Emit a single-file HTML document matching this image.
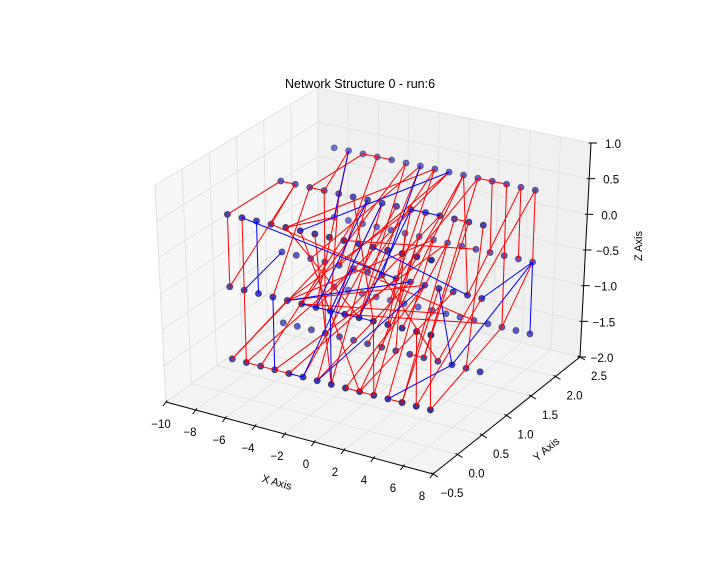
<!DOCTYPE html>
<html><head><meta charset="utf-8"><style>
html,body{margin:0;padding:0;background:#fff;}
svg{display:block;font-family:"Liberation Sans",sans-serif;}
</style></head><body>
<svg id="chart" width="720" height="576" viewBox="0 0 720 576" xmlns="http://www.w3.org/2000/svg">
<rect x="0" y="0" width="720" height="576" fill="#ffffff"/>
<g id="panes"></g>
<g id="grid"></g>
<g id="axes"></g>
<g id="nodes"></g>
<g id="edges"></g>
<g id="labels" font-size="11.5" fill="#000"></g>
<text x="360" y="88" text-anchor="middle" font-size="12.5">Network Structure 0 - run:6</text>
<text x="277" y="486" text-anchor="middle" font-size="11" transform="rotate(16 277 482)">X Axis</text>
<text x="546" y="453" text-anchor="middle" font-size="11" transform="rotate(-40 546 449)">Y Axis</text>
<text x="638" y="250" text-anchor="middle" font-size="11" transform="rotate(-90 638 246)">Z Axis</text>
</svg>
<script>
const xTicks=[-10,-8,-6,-4,-2,0,2,4,6,8];
const yTicks=[-0.5,0.0,0.5,1.0,1.5,2.0,2.5];
const zTicks=[-2.0,-1.5,-1.0,-0.5,0.0,0.5,1.0];
// node grid coordinates (data units)
const nodeX=[-7.15,-6.2,-5.25,-4.3,-3.35,-2.4,-1.45,-0.5,0.45,1.4,2.35,3.3,4.25,5.2,6.15];
const nodeY=[0,1,2];
const nodeZ=[-1.5,-0.5,0.5];
// edges reference nodes by column (-7..7), row (0..2), level (-1.5,-0.5,0.5)
const redEdges=[
[-7,0,.5,-7,1,.5],[-7,0,.5,-7,0,-.5],[-7,0,-.5,-6,1,.5],[-7,0,-1.5,-3,0,-.5],[-6,0,.5,-6,0,-1.5],
[-6,0,-1.5,-5,0,-1.5],[-5,0,-1.5,-4,0,-1.5],[-4,0,-1.5,-3,0,-1.5],[-6,1,.5,-4,0,.5],[-7,1,.5,-6,1,.5],
[-5,1,.5,-4,1,.5],[-6,2,.5,-4,1,.5],[-5,2,.5,-5,1,.5],[-5,2,.5,-4,2,.5],[-4,2,.5,-3,2,.5],
[-4,2,.5,-3,1,-.5],[0,2,.5,-3,0,.5],[0,2,.5,-1,1,-.5],[3,2,.5,4,2,.5],[4,2,.5,5,2,.5],
[3,2,.5,1,1,-.5],[4,2,.5,4,2,-.5],[5,2,.5,5,2,-1.5],[6,2,.5,6,2,-.5],[7,2,.5,7,2,-.5],
[7,2,-.5,5,2,-1.5],[4,0,-1.5,5,0,-1.5],[7,0,-1.5,5,2,-1.5],[7,0,-1.5,7,0,-.5],[-3,0,-.5,2,1,.5],
[-3,0,-.5,0,2,-.5],[-3,0,-.5,3,1,-.5],[-6,0,-1.5,-2,1,-.5],[-5,0,-1.5,-1,1,.5],[-4,0,-1.5,1,2,-.5],
[-7,0,-1.5,-4,1,-.5],[-2,0,.5,2,0,-1.5],[-1,0,.5,0,0,-1.5],[0,1,.5,0,0,-1.5],[-2,1,.5,3,0,-.5],
[-1,2,.5,2,0,-.5],[1,2,.5,-3,1,-.5],[2,2,.5,2,0,-1.5],[2,2,.5,6,1,-.5],[1,1,.5,-2,0,-1.5],
[3,1,.5,3,0,-1.5],[4,1,.5,1,0,-.5],[5,1,.5,5,0,-1.5],[6,1,.5,3,1,-1.5],[7,1,.5,6,1,-1.5],
[5,1,.5,6,1,.5],[-1,0,-.5,1,2,.5],[0,0,-.5,0,1,.5],[1,0,-.5,4,2,-1.5],[2,0,-.5,-2,2,.5],
[3,0,-.5,3,0,-1.5],[4,0,-.5,2,1,.5],[5,0,-.5,1,2,-.5],[6,0,-.5,6,0,-1.5],[-2,1,-.5,3,2,-1.5],
[0,1,-.5,4,1,-1.5],[2,1,-.5,-1,0,-1.5],[3,1,-.5,1,0,-1.5],[5,1,-.5,2,0,-1.5],[6,1,-.5,6,2,.5],
[-1,1,-1.5,2,2,.5],[0,1,-1.5,-1,2,-.5],[2,1,-1.5,3,1,-1.5],[3,1,-1.5,3,2,.5],[-3,2,-1.5,0,2,.5],
[-2,2,-.5,1,1,-1.5],[1,0,-1.5,2,0,-1.5],[2,0,-1.5,3,0,-1.5],[5,0,-1.5,4,1,-.5],[6,0,-1.5,7,1,-.5],
[-4,0,.5,1,1,-.5],[-3,0,.5,2,0,-.5],[-5,1,.5,-4,0,-.5],[-3,1,.5,0,0,-.5],[-2,2,.5,-2,0,-.5],
[-4,1,.5,-4,1,-1.5],[-1,1,.5,-1,0,-1.5],[0,2,-.5,4,0,-1.5],[1,2,-1.5,-2,0,-.5],[3,2,-.5,1,0,.5],
[-6,2,.5,-1,0,-.5],[-7,2,-.5,-3,0,.5],[-3,0,-1.5,1,1,-.5],[-5,1,-.5,-1,2,.5],[4,1,-1.5,7,2,.5]
];
const blueEdges=[
[-6,2,.5,-7,2,-.5],[-6,0,.5,1,1,-.5],[-5,0,.5,-5,0,-.5],[-6,0,-.5,-7,1,-.5],[-4,0,-.5,-4,0,-1.5],
[-3,0,-1.5,-2,0,-1.5],[-1,0,-1.5,3,1,-.5],[7,2,-.5,5,1,-1.5],[5,1,-1.5,4,0,-1.5],[4,1,-.5,5,1,-1.5],
[7,1,-.5,7,2,-.5],[7,2,-.5,7,2,-1.5],[-3,0,-.5,2,1,-.5],[-2,0,-.5,3,0,-.5],[-1,1,.5,-1,0,-.5],
[0,1,.5,0,0,-.5],[1,2,.5,-2,0,.5],[2,1,.5,4,1,.5],[3,0,.5,6,1,-.5],[0,0,-.5,0,0,-1.5],
[-2,1,-.5,-2,0,-1.5],[-1,2,.5,0,1,-.5],[2,0,-.5,2,1,.5]
];
const X0=-10,X1=8,Y0=-0.5,Y1=2.5,Z0=-2,Z1=1;
const CA=[166,402],CB=[433,474],CC=[580,357],CD=[318,293],CE=[155,185],CF=[434,246],CG=[591,143],CH=[318,88];
function lerp(p,q,t){return [p[0]+(q[0]-p[0])*t,p[1]+(q[1]-p[1])*t];}
function proj(x,y,z){
  const u=(x-X0)/(X1-X0),v=(y-Y0)/(Y1-Y0),w=(z-Z0)/(Z1-Z0);
  const bot=lerp(lerp(CA,CB,u),lerp(CD,CC,u),v);
  const top=lerp(lerp(CE,CF,u),lerp(CH,CG,u),v);
  return lerp(bot,top,w);
}
function nodeCoord(c,r,l){return [nodeX[c+7],nodeY[r],nodeZ[Math.round(l+1.5)]];}
const NS="http://www.w3.org/2000/svg";
function mk(tag,attrs,parent){const e=document.createElementNS(NS,tag);for(const k in attrs)e.setAttribute(k,attrs[k]);parent.appendChild(e);return e;}
function poly(pts){return pts.map(p=>p[0].toFixed(1)+","+p[1].toFixed(1)).join(" ");}
const panes=document.getElementById('panes'),grid=document.getElementById('grid'),axes=document.getElementById('axes');
let pe;
pe=mk('polygon',{points:poly([proj(X0,Y0,Z0),proj(X1,Y0,Z0),proj(X1,Y1,Z0),proj(X0,Y1,Z0)]),fill:'#f4f4f4',stroke:'#ececec'},panes);


pe=mk('polygon',{points:poly([proj(X0,Y0,Z0),proj(X0,Y1,Z0),proj(X0,Y1,Z1),proj(X0,Y0,Z1)]),fill:'#f7f7f7',stroke:'#ececec'},panes);


pe=mk('polygon',{points:poly([proj(X0,Y1,Z0),proj(X1,Y1,Z0),proj(X1,Y1,Z1),proj(X0,Y1,Z1)]),fill:'#f0f0f0',stroke:'#ececec'},panes);


function gl(a,b){const p=proj(...a),q=proj(...b);const l=mk('line',{x1:p[0],y1:p[1],x2:q[0],y2:q[1],stroke:'#e2e2e2','stroke-width':1},grid);

}
xTicks.forEach(x=>{gl([x,Y0,Z0],[x,Y1,Z0]);gl([x,Y1,Z0],[x,Y1,Z1]);});
yTicks.forEach(y=>{gl([X0,y,Z0],[X1,y,Z0]);gl([X0,y,Z0],[X0,y,Z1]);});
zTicks.forEach(z=>{gl([X0,Y0,z],[X0,Y1,z]);gl([X0,Y1,z],[X1,Y1,z]);});
function al(a,b,name){const p=proj(...a),q=proj(...b);const l=mk('line',{x1:p[0],y1:p[1],x2:q[0],y2:q[1],stroke:'#000','stroke-width':1},axes);

}
al([X0,Y0,Z0],[X1,Y0,Z0],'x-axis-line');
al([X1,Y0,Z0],[X1,Y1,Z0],'y-axis-line');
al([X1,Y1,Z0],[X1,Y1,Z1],'z-axis-line');
const labels=document.getElementById('labels');
function tick(p,dx,dy){const l=mk('line',{x1:p[0]-dx*0.4,y1:p[1]-dy*0.4,x2:p[0]+dx,y2:p[1]+dy,stroke:'#000','stroke-width':1},axes);

}
function lab(txt,x,y,name){const t=mk('text',{x:x,y:y,'text-anchor':'middle'},labels);t.textContent=txt;

}
function fmt(v,d){return (v<0?'\u2212':'')+Math.abs(v).toFixed(d);}
xTicks.forEach(x=>{const p=proj(x,Y0,Z0);const u=(x-X0)/(X1-X0);tick(p,-3,4);lab(fmt(x,0),p[0]-5-6*u,p[1]+26,'x-tick-label');});
yTicks.forEach(y=>{const p=proj(X1,y,Z0);tick(p,5,3);lab(fmt(y,1),p[0]+19,p[1]+23,'y-tick-label');});
zTicks.forEach(z=>{const p=proj(X1,Y1,z);tick(p,6,0);lab(fmt(z,1),p[0]+22,p[1]+5,'z-tick-label');});
// nodes
const ng=document.getElementById('nodes');
const list=[];
nodeX.forEach(x=>nodeY.forEach(y=>nodeZ.forEach(z=>{
  const u=(x-X0)/(X1-X0),v=(y-Y0)/(Y1-Y0);
  const t=Math.max(0,Math.min(1,(u*0.5-v*0.866+0.866)/1.366));
  list.push({x,y,z,t});
})));
list.sort((a,b)=>a.t-b.t);
list.forEach(n=>{
  const p=proj(n.x,n.y,n.z);
  const t=n.t;
  const r=Math.round(0x80+(0x22-0x80)*t),g=r,b=Math.round(0xe4+(0xb8-0xe4)*t);
  const c=mk('circle',{cx:p[0].toFixed(1),cy:p[1].toFixed(1),r:3.0,fill:`rgb(${r},${g},${b})`,stroke:'#222','stroke-opacity':(0.35+0.55*t).toFixed(2),'stroke-width':0.9},ng);
  
  
});
const eg=document.getElementById('edges');
function edge(e,col){const p=proj(...nodeCoord(e[0],e[1],e[2])),q=proj(...nodeCoord(e[3],e[4],e[5]));
  const l=mk('line',{x1:p[0].toFixed(1),y1:p[1].toFixed(1),x2:q[0].toFixed(1),y2:q[1].toFixed(1),stroke:col,'stroke-width':1},eg);
  
  }
redEdges.forEach(e=>edge(e,'#ff0000'));
blueEdges.forEach(e=>edge(e,'#0000ff'));
</script>
</body></html>
